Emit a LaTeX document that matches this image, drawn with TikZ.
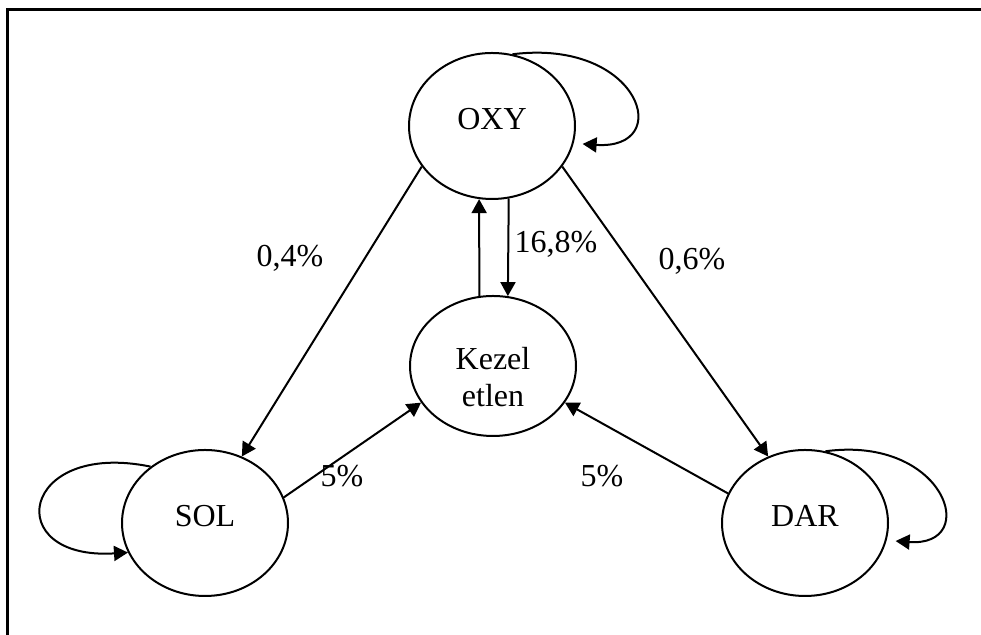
\documentclass[tikz,border=0pt]{standalone}
\usepackage{fontspec}
\setmainfont{Liberation Serif}
\usetikzlibrary{arrows.meta}
\usetikzlibrary{shapes.geometric}
\tikzset{
	>={Triangle[length=7pt,width=7.5pt]},
	state/.style={
		ellipse,
		draw=black, line width=1pt,
		minimum width=83pt,
		minimum height=73pt,
		inner sep=0pt,
		text height=11pt,
		text depth=7.4pt,
		font=\fontsize{16}{18.5}\selectfont},
	line/.style={draw, line width=1pt, ->},
	pct/.style={anchor=base, font=\fontsize{16}{18.5}\selectfont},
}

\begin{document}
\begin{tikzpicture}[x=0.5pt, y=0.5pt]
	\useasboundingbox (0,0) rectangle (981,635);
	% frame
	\draw[line width=1.5pt] (7.5,0) -- (7.5,625) -- (981,625);
	% states
	\node[state] (oxy) at (492,509) {OXY};
	\node[state, align=center, text height=41pt, text depth=0pt, minimum height=70pt] (kezel) at (493,269) {Kezel\\etlen};
	\node[state] (sol) at (205,112) {SOL};
	\node[state] (dar) at (805,112) {DAR};
	% transitions
	\draw[line] (oxy.210) -- (sol.61);
	\draw[line] (oxy.330) -- (dar.119);
	\draw[line] (kezel.101) -- (oxy.260);
	\draw[line] (oxy.283) -- (kezel.78);
	\draw[line] (sol.18) -- (kezel.207);
	\draw[line] (dar.159) -- (kezel.333);
	% self loops
	\draw[line, shorten >=4.5pt] (oxy.74) .. controls +(128,16) and +(102,-7) .. (oxy.-12);
	\draw[line, shorten >=4.5pt] (dar.74) .. controls +(120,16) and +(95,-7) .. (dar.-12);
	\draw[line] (sol.134) .. controls +(-131,27) and +(-128,-8) .. (sol.201);
	% rates
	\node[pct] (p04) at (290,368) {0,4\%};
	\node[pct] (p168) at (556,382) {16,8\%};
	\node[pct] (p06) at (692,365) {0,6\%};
	\node[pct] (p5a) at (342,148) {5\%};
	\node[pct] (p5b) at (602,148) {5\%};
\end{tikzpicture}
\end{document}
